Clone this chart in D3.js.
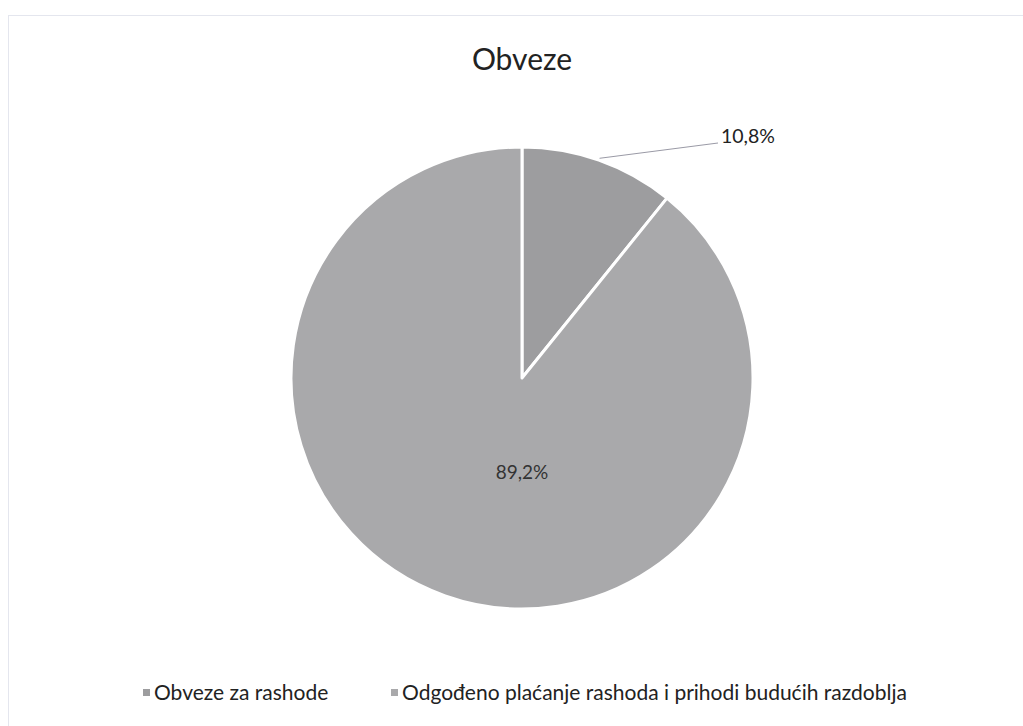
<!DOCTYPE html>
<html>
<head>
<meta charset="UTF-8">
<title>Obveze</title>
<script src="https://cdn.jsdelivr.net/npm/d3@7"></script>
<style>
  body { margin: 0; background: #fff; }
  text { font-family: Lato, "Open Sans", sans-serif; }
</style>
</head>
<body>
<svg id="chart" width="1023" height="726"></svg>
<script>
var categories = ['Obveze za rashode', 'Odgođeno plaćanje rashoda i prihodi budućih razdoblja'];
var values = [10.8, 89.2];
var labels = ['10,8%', '89,2%'];
var colors = ['#9d9d9f', '#a9a9ab'];

var svg = d3.select('#chart');
var cx = 522, cy = 378, r = 231;

// chart frame (faint, from the scan)
svg.append('rect')
   .attr('x', 8.5).attr('y', 15.5)
   .attr('width', 1030).attr('height', 720)
   .attr('fill', 'none')
   .attr('stroke', '#e4e6ee')
   .attr('stroke-width', 1);

svg.append('text')
   .attr('x', cx).attr('y', 70)
   .attr('text-anchor', 'middle')
   .attr('font-size', 30)
   .attr('fill', '#222')
   .text('Obveze');

var pie = d3.pie().sort(null).value(function(d){ return d; });
var arcs = pie(values);
var arc = d3.arc().innerRadius(0).outerRadius(r);

var g = svg.append('g').attr('transform', 'translate(' + cx + ',' + cy + ')');
g.selectAll('path')
 .data(arcs)
 .enter().append('path')
 .attr('d', arc)
 .attr('fill', function(d, i){ return colors[i]; })
 .attr('stroke', '#fff')
 .attr('stroke-width', 3)
 .attr('stroke-linejoin', 'round');

// small slice: label outside with leader line
var a0 = arcs[0];
var mid0 = (a0.startAngle + a0.endAngle) / 2;
var lineStart = [Math.sin(mid0) * (r + 2), -Math.cos(mid0) * (r + 2)];
g.append('line')
 .attr('x1', lineStart[0]).attr('y1', lineStart[1])
 .attr('x2', 196).attr('y2', -235)
 .attr('stroke', '#9a9aa6')
 .attr('stroke-width', 1);
g.append('text')
 .attr('x', 199).attr('y', -235)
 .attr('font-size', 19.5)
 .attr('fill', '#222')
 .text(labels[0]);

// big slice: label inside
g.append('text')
 .attr('x', 0).attr('y', 101)
 .attr('text-anchor', 'middle')
 .attr('font-size', 19)
 .attr('fill', '#333')
 .text(labels[1]);

// legend
var legendX = [143, 391];
var lg = svg.append('g');
categories.forEach(function(c, i){
  lg.append('rect')
    .attr('x', legendX[i]).attr('y', 689)
    .attr('width', 7).attr('height', 7)
    .attr('fill', colors[i]);
  lg.append('text')
    .attr('x', legendX[i] + 11).attr('y', 700)
    .attr('font-size', 21)
    .attr('fill', '#222')
    .text(c);
});
</script>
</body>
</html>
